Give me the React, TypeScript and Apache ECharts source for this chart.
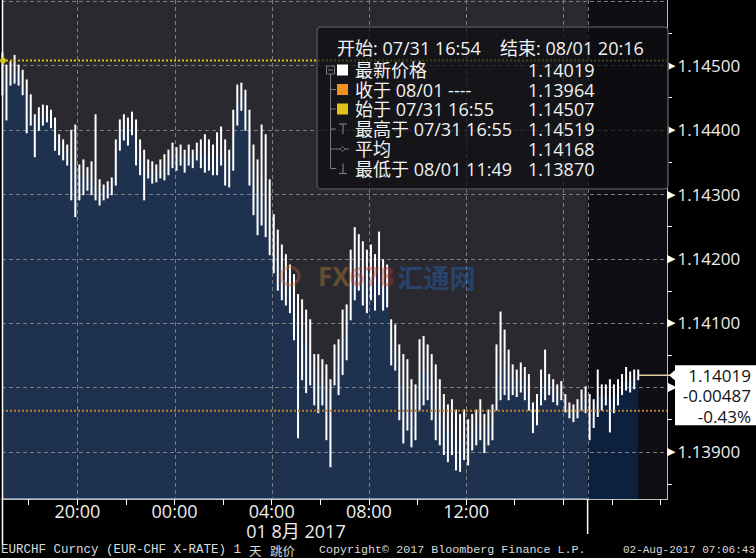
import React, { useEffect, useRef } from "react";
import * as echarts from "echarts";

// ---- time frame (hours since 07/31 00:00) ----
const X_MIN = 16.9; // 07/31 16:54
const X_MAX = 44 + 16 / 60; // 08/01 20:16
const DAY_BOUNDARY = 41; // 08/01 17:00
const FIRST_BAR_HOUR = 16 + 55 / 60; // 07/31 16:55
const BAR_MINUTES = 10;
const Y_MIN = 1.13827;
const Y_MAX = 1.14601;

// ---- 10-minute bars ----
const highs = [
  1.14519, 1.145, 1.14505, 1.14515, 1.145, 1.14492, 1.14477, 1.14454, 1.14423, 1.14434,
  1.14438, 1.14437, 1.1443, 1.14418, 1.14392, 1.14384, 1.14376, 1.14399, 1.14407, 1.14345,
  1.14353, 1.14341, 1.1435, 1.14423, 1.14322, 1.14314, 1.14319, 1.14325, 1.14384, 1.14415,
  1.14423, 1.14418, 1.14427, 1.14415, 1.14384, 1.14368, 1.14353, 1.1435, 1.14345, 1.14353,
  1.14361, 1.14368, 1.14379, 1.14372, 1.14376, 1.14368, 1.14376, 1.14368, 1.14379, 1.14384,
  1.14392, 1.14384, 1.14376, 1.14395, 1.14404, 1.14384, 1.14368, 1.1443, 1.14469, 1.14472,
  1.14461, 1.1443, 1.14376, 1.14353, 1.14407, 1.14392, 1.14322, 1.14268, 1.14244, 1.14221,
  1.14206, 1.1419, 1.14175, 1.14144, 1.14136, 1.1412, 1.14105, 1.14051, 1.14051, 1.14043,
  1.14035, 1.14012, 1.14066, 1.14074, 1.1412, 1.14128, 1.14213, 1.14248, 1.14237, 1.14226,
  1.14213, 1.14221, 1.14206, 1.14241, 1.14198, 1.1419, 1.14105, 1.14097, 1.14066, 1.14051,
  1.14043, 1.14012, 1.14004, 1.14074, 1.14079, 1.14066, 1.14051, 1.14035, 1.14012, 1.13989,
  1.13973, 1.13981, 1.13965, 1.13958, 1.13965, 1.1395, 1.13958, 1.13965, 1.13981, 1.13958,
  1.13965, 1.13973, 1.14066, 1.14117, 1.14089, 1.14058, 1.14035, 1.14027, 1.14038, 1.14031,
  1.1402, 1.13976, 1.13989, 1.14027, 1.14058, 1.1402, 1.14012, 1.14004, 1.14009, 1.13989,
  1.13976, 1.13973, 1.13981, 1.13996, 1.14001, 1.13989, 1.13981, 1.14027, 1.14004, 1.14004,
  1.14012, 1.14004, 1.14012, 1.1402, 1.14031, 1.14024, 1.14027, 1.14027,
];
const lows = [
  1.14454, 1.14415, 1.14469, 1.14472, 1.14469, 1.14454, 1.14395, 1.14407, 1.14358, 1.14399,
  1.14407, 1.14412, 1.14403, 1.14368, 1.14361, 1.14353, 1.14345, 1.14291, 1.14265, 1.14291,
  1.14299, 1.14306, 1.14299, 1.14291, 1.14283, 1.14291, 1.14294, 1.14299, 1.14314, 1.14368,
  1.14384, 1.14376, 1.14392, 1.14345, 1.1433, 1.14291, 1.14325, 1.14317, 1.14319, 1.14325,
  1.14322, 1.1433, 1.14341, 1.14337, 1.14345, 1.14334, 1.14345, 1.14341, 1.14353, 1.14341,
  1.14334, 1.14337, 1.1433, 1.1433, 1.14345, 1.14314, 1.14311, 1.14337, 1.14407, 1.1443,
  1.14399, 1.14314, 1.14268, 1.14237, 1.14252, 1.14234, 1.14206, 1.14178, 1.14151, 1.14136,
  1.14128, 1.14116, 1.14074, 1.13922, 1.14012, 1.13992, 1.14004, 1.13973, 1.13961, 1.13973,
  1.13919, 1.13877, 1.14004, 1.13989, 1.1402, 1.14043, 1.14105, 1.14136, 1.14151, 1.14128,
  1.14116, 1.14136, 1.1412, 1.14144, 1.1412, 1.14125, 1.14035, 1.14027, 1.1395, 1.13914,
  1.13934, 1.13908, 1.13919, 1.13965, 1.13973, 1.13981, 1.1395, 1.13919, 1.13911, 1.13896,
  1.13885, 1.13896, 1.13872, 1.1387, 1.13888, 1.1388, 1.13903, 1.13911, 1.13919, 1.13899,
  1.13911, 1.13919, 1.13965, 1.13981, 1.13989, 1.13981, 1.13989, 1.13986, 1.13993, 1.13981,
  1.13965, 1.1393, 1.13942, 1.13973, 1.13981, 1.13989, 1.13978, 1.13973, 1.13981, 1.13962,
  1.13953, 1.13947, 1.13953, 1.13965, 1.13961, 1.13919, 1.13938, 1.13955, 1.13965, 1.13973,
  1.13931, 1.13961, 1.13973, 1.13989, 1.13996, 1.13993, 1.13998, 1.14012,
];
const closes = [
  1.14495, 1.14477, 1.14489, 1.14492, 1.14485, 1.14474, 1.14454, 1.14434, 1.14399, 1.14418,
  1.14423, 1.14427, 1.14418, 1.14399, 1.14376, 1.14368, 1.14361, 1.14353, 1.14337, 1.14325,
  1.1433, 1.14325, 1.14322, 1.14314, 1.14303, 1.14306, 1.1431, 1.14314, 1.14376, 1.14399,
  1.14403, 1.14407, 1.14412, 1.14384, 1.14361, 1.14345, 1.14337, 1.14334, 1.1433, 1.14337,
  1.14341, 1.14353, 1.14361, 1.14356, 1.14361, 1.14353, 1.14361, 1.14356, 1.14365, 1.14361,
  1.14361, 1.14365, 1.14353, 1.14356, 1.14368, 1.14353, 1.14345, 1.14399, 1.14446, 1.14454,
  1.14438, 1.14384, 1.14322, 1.14291, 1.1433, 1.14299, 1.14252, 1.14221, 1.14195, 1.14182,
  1.14167, 1.14151, 1.14136, 1.14089, 1.14082, 1.14058, 1.14051, 1.1402, 1.14004, 1.14012,
  1.13996, 1.13981, 1.14035, 1.14043, 1.14074, 1.14089, 1.14151, 1.14198, 1.14195, 1.14175,
  1.14167, 1.14182, 1.14167, 1.1419, 1.14159, 1.14151, 1.14074, 1.14066, 1.14012, 1.13996,
  1.13989, 1.13965, 1.13962, 1.1402, 1.14027, 1.14024, 1.14004, 1.13981, 1.13965, 1.13942,
  1.13934, 1.13942, 1.13919, 1.13911, 1.13927, 1.13919, 1.13934, 1.13942, 1.1395, 1.13927,
  1.13942, 1.1395, 1.13996, 1.14043, 1.14035, 1.14012, 1.14012, 1.14009, 1.14015, 1.14004,
  1.13993, 1.13958, 1.13965, 1.13996, 1.1402, 1.14004, 1.13996, 1.13989, 1.13993, 1.13973,
  1.13965, 1.13959, 1.13965, 1.13981, 1.13981, 1.13958, 1.13962, 1.13989, 1.13984, 1.13989,
  1.13981, 1.13984, 1.13993, 1.14004, 1.14012, 1.14009, 1.14015, 1.14019,
];

// ---- axes ----
const priceLabels = [1.139, 1.141, 1.142, 1.143, 1.144, 1.145];
const priceHiddenLabel = 1.14; // its label sits under the last-price tag
const priceMinorTicks = [1.1385, 1.1395, 1.1405, 1.1415, 1.1425, 1.1435, 1.1445, 1.1455];
const priceGridLines = [1.139, 1.14, 1.141, 1.142, 1.143, 1.144, 1.145, 1.146];
const timeLabelHours = [20, 24, 28, 32, 36];
const timeTickHours = [18, 20, 22, 24, 26, 28, 30, 32, 34, 36, 38, 40, 42, 44];
const timeGridHours = [20, 24, 28, 32, 36, 40, 41];

// ---- reference values ----
const OPEN_PRICE = 1.14507;
const PREV_CLOSE = 1.13964;
const refLinePrices = [OPEN_PRICE, PREV_CLOSE];
const refLineColors = ["#d8c41e", "#b9812c"];
const LAST_PRICE = 1.14019;
const CHANGE = "-0.00487";
const CHANGE_PCT = "-0.43%";

const legendTitleStart = "开始: 07/31 16:54";
const legendTitleEnd = "结束: 08/01 20:16";
const legendLabels = ["最新价格", "收于 08/01 ----", "始于 07/31 16:55", "最高于 07/31 16:55", "平均", "最低于 08/01 11:49"];
const legendValues = [1.14019, 1.13964, 1.14507, 1.14519, 1.14168, 1.1387];
const legendIcons = ["sq:#ffffff", "sq:#f0921e", "sq:#e2c11c", "high", "avg", "low"];

const DATE_LABEL = "01 8月 2017";
const FOOTER_LEFT = "EURCHF Curncy (EUR-CHF X-RATE) 1";
const FOOTER_DAY = "天";
const FOOTER_TYPE = "跳价";
const FOOTER_COPY = "Copyright© 2017 Bloomberg Finance L.P.";
const FOOTER_TIME = "02-Aug-2017 07:06:43";

const UI_FONT = '"Open Sans", "Noto Sans CJK SC", sans-serif';

export default function App() {
  const ref = useRef<HTMLDivElement>(null);

  useEffect(() => {
    if (!ref.current) return;
    const chart = echarts.init(ref.current, null, { renderer: "svg" });
    const hours = closes.map((_, i) => FIRST_BAR_HOUR + (i * BAR_MINUTES) / 60);
    const barData = hours.map((h, i) => [h, highs[i], lows[i]]);
    const areaData = hours.map((h, i) => [h, closes[i]]);

    const option: any = {
      animation: false,
      backgroundColor: "#000000",
      grid: { left: 2, right: 89, top: 0, bottom: 59, show: true, backgroundColor: "#2a292f", borderWidth: 0 },
      xAxis: {
        type: "value",
        min: X_MIN,
        max: X_MAX,
        axisLine: { show: true, lineStyle: { color: "#ffffff", width: 1.5 } },
        axisTick: { show: true, customValues: timeTickHours, length: 6, lineStyle: { color: "#ffffff" } },
        axisLabel: {
          show: true,
          customValues: timeLabelHours,
          margin: 3,
          color: "#eeeeee",
          fontSize: 18,
          fontFamily: UI_FONT,
          formatter: (v: number) => `${String(Math.round(v) % 24).padStart(2, "0")}:00`,
        },
        splitLine: { show: false },
      },
      yAxis: {
        type: "value",
        position: "right",
        min: Y_MIN,
        max: Y_MAX,
        axisLine: { show: true, lineStyle: { color: "#ffffff", width: 1.5 } },
        axisTick: { show: true, customValues: priceMinorTicks, length: 5, lineStyle: { color: "#ffffff" } },
        axisLabel: {
          show: true,
          customValues: priceLabels,
          margin: 0,
          formatter: (v: number) => `{a|▶}{b|${v.toFixed(5)}}`,
          rich: {
            a: { color: "#ffffff", fontSize: 11, fontFamily: "DejaVu Sans", padding: [0, 2, 0, 0] },
            b: { color: "#eeeeee", fontSize: 17, fontFamily: UI_FONT },
          },
        },
        splitLine: { show: false },
      },
      series: [
        {
          type: "line",
          name: "bg",
          z: 0,
          silent: true,
          data: [[X_MIN, Y_MIN]],
          symbol: "none",
          lineStyle: { opacity: 0 },
          markArea: {
            silent: true,
            itemStyle: { color: "#0d0d13" },
            data: [[{ xAxis: DAY_BOUNDARY }, { xAxis: X_MAX }]],
          },
        },
        {
          type: "line",
          name: "area",
          z: 2,
          silent: true,
          data: areaData,
          symbol: "none",
          lineStyle: { width: 0 },
          areaStyle: { color: "rgba(14,62,124,0.6)", origin: "start" },
        },
        {
          type: "custom",
          name: "ticks",
          z: 4,
          silent: true,
          data: barData,
          encode: { x: 0, y: [1, 2] },
          renderItem: (params: any, api: any) => {
            const top = api.coord([api.value(0), api.value(1)]);
            const bot = api.coord([api.value(0), api.value(2)]);
            return {
              type: "line",
              shape: { x1: top[0], y1: top[1] - 0.5, x2: bot[0], y2: bot[1] + 0.5 },
              style: { stroke: "#ffffff", lineWidth: 2 },
            };
          },
        },
        {
          type: "custom",
          name: "ref",
          z: 5,
          silent: true,
          data: refLinePrices.map((p) => [X_MIN, p]),
          encode: { x: 0, y: 1 },
          renderItem: (params: any, api: any) => {
            const a = api.coord([X_MIN, api.value(1)]);
            const b = api.coord([X_MAX, api.value(1)]);
            return {
              type: "line",
              shape: { x1: a[0], y1: a[1], x2: b[0], y2: b[1] },
              style: { stroke: refLineColors[params.dataIndex], lineWidth: 2, lineDash: [2, 2] },
            };
          },
        },
      ],
    };
    chart.setOption(option);

    const toPx = (h: number, p: number) =>
      chart.convertToPixel({ xAxisIndex: 0, yAxisIndex: 0 }, [h, p]) as number[];
    const [gx0, gyTop] = toPx(X_MIN, Y_MAX);
    const [gx1, gyBot] = toPx(X_MAX, Y_MIN);
    const [lx, ly] = toPx(hours[hours.length - 1], LAST_PRICE);
    const dayX = toPx(DAY_BOUNDARY, Y_MIN)[0];
    const [sx, sy] = toPx(X_MIN, OPEN_PRICE);
    const hiddenY = toPx(X_MAX, priceHiddenLabel)[1];

    const els: any[] = [];
    // dashed grid lines, placed through the axis scales
    priceGridLines.forEach((p) => {
      const y = Math.round(toPx(X_MIN, p)[1]) + 0.5;
      els.push({ type: "line", z: 3, silent: true, shape: { x1: gx0, y1: y, x2: gx1, y2: y }, style: { stroke: "#7c7c82", lineWidth: 1, lineDash: [4, 3] } });
    });
    timeGridHours.forEach((h) => {
      const x = Math.round(toPx(h, Y_MIN)[0]) + 0.5;
      els.push({ type: "line", z: 3, silent: true, shape: { x1: x, y1: gyTop, x2: x, y2: gyBot }, style: { stroke: "#7c7c82", lineWidth: 1, lineDash: [4, 3] } });
    });

    // borders
    els.push({ type: "line", z: 90, shape: { x1: gx0 + 0.5, y1: gyTop, x2: gx0 + 0.5, y2: 545 }, style: { stroke: "#ffffff", lineWidth: 1.5 } });
    els.push({ type: "line", z: 90, shape: { x1: dayX, y1: gyBot, x2: dayX, y2: 534 }, style: { stroke: "#ffffff", lineWidth: 1.5 } });
    els.push({ type: "circle", z: 90, shape: { cx: sx + 1, cy: sy, r: 3 }, style: { fill: "#d8c41e" } });

    // watermark
    els.push({ type: "circle", z: 20, shape: { cx: 290, cy: 276, r: 9 }, style: { fill: "none", stroke: "rgba(200,95,45,0.4)", lineWidth: 3 } });
    els.push({
      type: "text", z: 20, x: 318, y: 276,
      style: {
        text: "{a|FX}{b|678} {c|汇通网}",
        verticalAlign: "middle",
        rich: {
          a: { fontSize: 26, fontWeight: "bold", fontFamily: UI_FONT, fill: "rgba(190,130,50,0.42)" },
          b: { fontSize: 26, fontWeight: "bold", fontFamily: UI_FONT, fill: "rgba(195,55,45,0.42)" },
          c: { fontSize: 26, fontWeight: "bold", fontFamily: "Noto Sans CJK SC", fill: "rgba(40,95,170,0.5)" },
        },
      },
    });

    // legend box
    const bx = 317, by = 27;
    const txt = (x: number, y: number, text: string) => ({
      type: "text", z: 51, x, y,
      style: { text, fill: "#f2f2f2", fontSize: 18, lineHeight: 18, fontFamily: UI_FONT, verticalAlign: "middle" },
    });
    els.push({ type: "rect", z: 50, shape: { x: bx, y: by, width: gx1 - bx + 1, height: 162, r: 4 }, style: { fill: "rgba(12,12,17,0.72)", stroke: "#4d4d52", lineWidth: 1.5 } });
    els.push(txt(337, 48, legendTitleStart));
    els.push(txt(500, 48, legendTitleEnd));
    const rowY = [70, 89.5, 109, 129, 149, 168.5];
    const treeColor = "#7a7a7e";
    els.push({ type: "line", z: 51, shape: { x1: 330.5, y1: rowY[0] + 4, x2: 330.5, y2: rowY[5] }, style: { stroke: treeColor, lineWidth: 1 } });
    els.push({ type: "rect", z: 51, shape: { x: 326.5, y: rowY[0] - 4, width: 8, height: 8 }, style: { fill: "none", stroke: treeColor, lineWidth: 1 } });
    els.push({ type: "line", z: 51, shape: { x1: 328, y1: rowY[0], x2: 333, y2: rowY[0] }, style: { stroke: treeColor, lineWidth: 1 } });
    legendLabels.forEach((label, i) => {
      const y = rowY[i];
      if (i > 0) els.push({ type: "line", z: 51, shape: { x1: 330.5, y1: y, x2: 336, y2: y }, style: { stroke: treeColor, lineWidth: 1 } });
      const icon = legendIcons[i];
      if (icon.startsWith("sq:")) {
        els.push({ type: "rect", z: 51, shape: { x: 337, y: y - 5.5, width: 11, height: 11 }, style: { fill: icon.slice(3) } });
      } else if (icon === "high") {
        els.push({ type: "line", z: 51, shape: { x1: 339, y1: y - 5, x2: 347, y2: y - 5 }, style: { stroke: treeColor, lineWidth: 1.2 } });
        els.push({ type: "line", z: 51, shape: { x1: 343, y1: y - 5, x2: 343, y2: y + 5 }, style: { stroke: treeColor, lineWidth: 1.2 } });
      } else if (icon === "avg") {
        els.push({ type: "line", z: 51, shape: { x1: 336, y1: y, x2: 349, y2: y }, style: { stroke: treeColor, lineWidth: 1 } });
        els.push({ type: "circle", z: 52, shape: { cx: 342.5, cy: y, r: 2 }, style: { fill: "#0e0e13", stroke: treeColor, lineWidth: 1 } });
      } else if (icon === "low") {
        els.push({ type: "line", z: 51, shape: { x1: 343, y1: y - 5, x2: 343, y2: y + 5 }, style: { stroke: treeColor, lineWidth: 1.2 } });
        els.push({ type: "line", z: 51, shape: { x1: 339, y1: y + 5, x2: 347, y2: y + 5 }, style: { stroke: treeColor, lineWidth: 1.2 } });
      }
      els.push(txt(355, y, label));
      els.push(txt(528, y, legendValues[i].toFixed(5)));
    });

    // axis arrow at 1.14000 (its label is hidden by the tag)
    els.push({ type: "polygon", z: 99, shape: { points: [[gx1 + 1, hiddenY - 4.5], [gx1 + 10, hiddenY], [gx1 + 1, hiddenY + 4.5]] }, style: { fill: "#ffffff" } });

    // last price tag
    els.push({ type: "line", z: 60, shape: { x1: lx, y1: ly, x2: gx1 + 4, y2: ly }, style: { stroke: "#e2d0a2", lineWidth: 1.5 } });
    els.push({ type: "polygon", z: 100, shape: { points: [[gx1 + 2, ly], [gx1 + 9, ly - 6], [gx1 + 9, ly + 6]] }, style: { fill: "#ffffff" } });
    els.push({ type: "rect", z: 100, shape: { x: gx1 + 8, y: ly - 10, width: 756 - gx1 - 8, height: 60 }, style: { fill: "#ffffff" } });
    [[LAST_PRICE.toFixed(5), 0], [CHANGE, 20], [CHANGE_PCT, 41]].forEach(([t, dy]) => {
      els.push({ type: "text", z: 101, x: 751, y: ly + (dy as number), style: { text: t as string, fill: "#111111", fontSize: 17, lineHeight: 18, fontFamily: UI_FONT, align: "right", verticalAlign: "middle" } });
    });

    // date and footer
    els.push({ type: "text", z: 90, x: 296, y: 531, style: { text: DATE_LABEL, fill: "#eeeeee", fontSize: 18, lineHeight: 18, fontFamily: UI_FONT, align: "center", verticalAlign: "middle" } });
    const fy = 550;
    const foot = (x: number, text: string, size: number, family: string, align = "left") => ({
      type: "text", z: 90, x, y: fy,
      style: { text, fill: "#dadada", fontSize: size, lineHeight: 13, fontFamily: family, align, verticalAlign: "middle" },
    });
    els.push(foot(1, FOOTER_LEFT, 12.5, "Liberation Mono"));
    els.push(foot(249, FOOTER_DAY, 12.5, "Noto Sans CJK SC"));
    els.push(foot(270, FOOTER_TYPE, 12.5, "Noto Sans CJK SC"));
    els.push(foot(319, FOOTER_COPY, 11.7, "Liberation Mono"));
    els.push(foot(755, FOOTER_TIME, 11, "Liberation Mono", "right"));

    chart.setOption({ graphic: { elements: els } });

    return () => chart.dispose();
  }, []);

  return (
    <div
      ref={ref}
      style={{ position: "fixed", left: 0, top: 0, width: 756, height: 558, background: "#000" }}
    />
  );
}
